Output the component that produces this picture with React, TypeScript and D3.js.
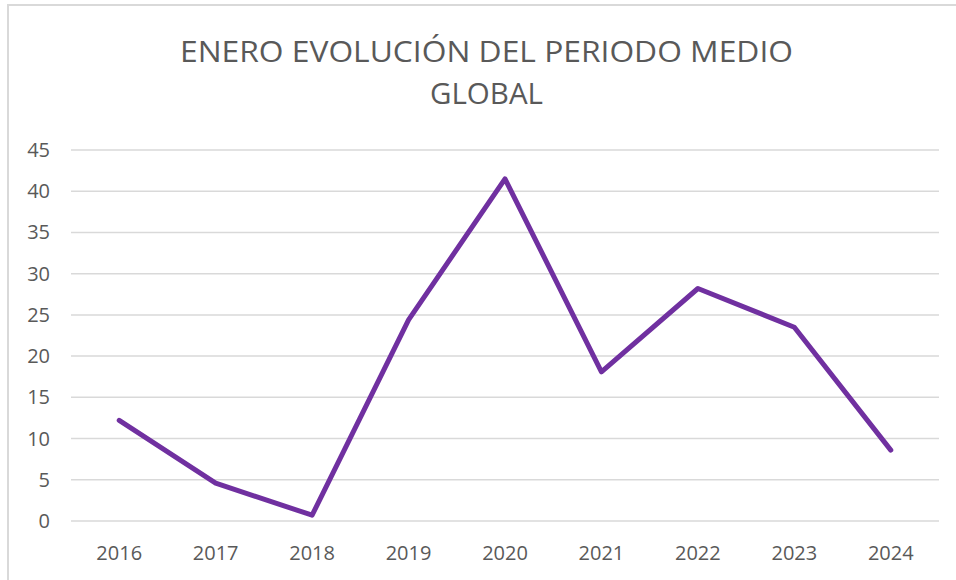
import React, { useRef, useEffect } from 'react';
import * as d3 from 'd3';

const years = ['2016', '2017', '2018', '2019', '2020', '2021', '2022', '2023', '2024'];
const periodoMedio = [12.2, 4.6, 0.7, 24.4, 41.5, 18.1, 28.2, 23.5, 8.6];
const yTicks = [0, 5, 10, 15, 20, 25, 30, 35, 40, 45];
const titleLines = ['ENERO EVOLUCIÓN DEL PERIODO MEDIO', 'GLOBAL'];

const width = 956;
const height = 580;
const font = "'Open Sans', sans-serif";
const textColor = '#595959';

const App = () => {
  const chartRef = useRef<SVGSVGElement>(null);

  useEffect(() => {
    const svg = d3.select(chartRef.current);
    svg.selectAll('*').remove();

    const x = d3.scaleBand().domain(years).range([71, 939]);
    const y = d3.scaleLinear().domain([0, 45]).range([521, 150]);

    // chart frame (only top and left edges are inside the picture)
    svg.append('path')
      .attr('d', 'M8,600 L8,5 L1000,5')
      .attr('fill', 'none')
      .attr('stroke', '#d9d9d9')
      .attr('stroke-width', 2);

    // title
    const title = svg.append('g')
      .attr('font-family', font)
      .attr('font-size', 30)
      .attr('fill', textColor)
      .attr('text-anchor', 'middle');
    title.append('text')
      .attr('x', 486.5)
      .attr('y', 62)
      .attr('textLength', 613)
      .attr('lengthAdjust', 'spacingAndGlyphs')
      .text(titleLines[0]);
    title.append('text')
      .attr('x', 486.5)
      .attr('y', 104)
      .attr('textLength', 113)
      .attr('lengthAdjust', 'spacingAndGlyphs')
      .text(titleLines[1]);

    // gridlines
    svg.append('g')
      .selectAll('line')
      .data(yTicks)
      .join('line')
      .attr('x1', 71)
      .attr('x2', 939)
      .attr('y1', d => y(d))
      .attr('y2', d => y(d))
      .attr('stroke', '#d9d9d9')
      .attr('stroke-width', 1.5);

    // y labels
    svg.append('g')
      .attr('font-family', font)
      .attr('font-size', 20)
      .attr('fill', textColor)
      .attr('text-anchor', 'end')
      .selectAll('text')
      .data(yTicks)
      .join('text')
      .attr('x', 50)
      .attr('y', d => y(d))
      .attr('dy', '0.35em')
      .text(d => d);

    // x labels
    svg.append('g')
      .attr('font-family', font)
      .attr('font-size', 20)
      .attr('fill', textColor)
      .attr('text-anchor', 'middle')
      .selectAll('text')
      .data(years)
      .join('text')
      .attr('x', d => x(d)! + x.bandwidth() / 2)
      .attr('y', 560)
      .text(d => d);

    // line
    const line = d3.line<number>()
      .x((_, i) => x(years[i])! + x.bandwidth() / 2)
      .y(d => y(d));

    svg.append('path')
      .datum(periodoMedio)
      .attr('d', line)
      .attr('fill', 'none')
      .attr('stroke', '#7030a0')
      .attr('stroke-width', 5)
      .attr('stroke-linejoin', 'round')
      .attr('stroke-linecap', 'round');
  }, []);

  return (
    <svg
      ref={chartRef}
      width={width}
      height={height}
      style={{ position: 'fixed', top: 0, left: 0, background: '#fff' }}
    />
  );
};

export default App;
